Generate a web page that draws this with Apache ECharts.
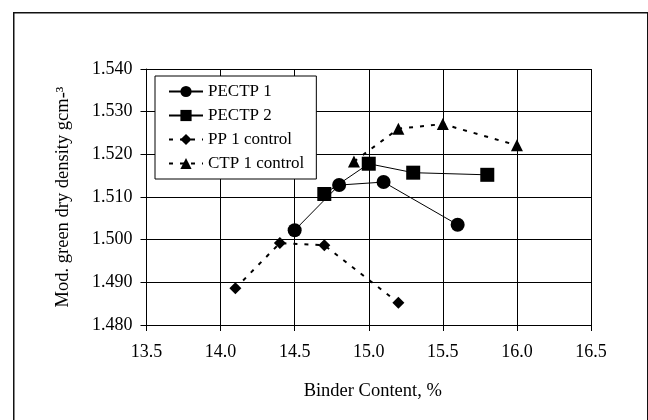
<!DOCTYPE html>
<html>
<head>
<meta charset="utf-8">
<style>html,body{margin:0;padding:0;background:#fff;}#c{width:648px;height:420px;}</style>
<script src="https://cdn.jsdelivr.net/npm/echarts@6/dist/echarts.min.js"></script>
</head>
<body>
<div id="c"></div>
<script>
const pectp1X = [14.5, 14.8, 15.1, 15.6];
const pectp1Y = [1.5022, 1.5128, 1.5135, 1.5035];
const pectp2X = [14.7, 15.0, 15.3, 15.8];
const pectp2Y = [1.5107, 1.5178, 1.5157, 1.5152];
const pp1X = [14.1, 14.4, 14.7, 15.2];
const pp1Y = [1.4886, 1.4992, 1.4987, 1.4852];
const ctp1X = [14.9, 15.2, 15.5, 16.0];
const ctp1Y = [1.5183, 1.5260, 1.5271, 1.5221];
const seriesNames = ['PECTP 1', 'PECTP 2', 'PP 1 control', 'CTP 1 control'];
const xTitle = 'Binder Content, %';
const yTitle = 'Mod. green dry density gcm-³';

const zip = (xs, ys) => xs.map((x, i) => [x, ys[i]]);
const FONT = '"Liberation Serif", "Times New Roman", serif';

const chart = echarts.init(document.getElementById('c'), null, {renderer: 'canvas'});
chart.setOption({
  animation: false,
  backgroundColor: '#fff',
  textStyle: {fontFamily: FONT, color: '#000'},
  graphic: [{
    type: 'rect', left: 13, top: 12, z: -10,
    shape: {x: 0, y: 0, width: 634, height: 430},
    style: {fill: '#fff', stroke: '#111', lineWidth: 1.5}
  }],
  grid: {left: 146.5, right: 57, top: 69, bottom: 95},
  legend: {
    orient: 'vertical', left: 155, top: 76,
    backgroundColor: '#fff', borderColor: '#000', borderWidth: 1,
    padding: [7, 12, 7, 13], itemGap: 7, itemWidth: 34, itemHeight: 14,
    textStyle: {fontFamily: FONT, fontSize: 17, color: '#000'},
    data: seriesNames
  },
  xAxis: {
    type: 'value', min: 13.5, max: 16.5, interval: 0.5,
    name: xTitle, nameLocation: 'middle', nameGap: 57,
    nameTextStyle: {fontFamily: FONT, fontSize: 18.5, color: '#000', padding: [0, 0, 0, 8]},
    axisLine: {lineStyle: {color: '#000', width: 1}},
    axisTick: {show: true, inside: false, length: 6, lineStyle: {color: '#000'}},
    axisLabel: {fontFamily: FONT, fontSize: 18, color: '#000', margin: 18,
      formatter: v => v.toFixed(1)},
    splitLine: {show: true, lineStyle: {color: '#000', width: 1}}
  },
  yAxis: {
    type: 'value', min: 1.48, max: 1.54, interval: 0.01,
    name: yTitle, nameLocation: 'middle', nameGap: 74, nameRotate: 90,
    nameTextStyle: {fontFamily: FONT, fontSize: 18.5, color: '#000'},
    axisLine: {show: true, lineStyle: {color: '#000', width: 1}},
    axisTick: {show: true, inside: false, length: 6, lineStyle: {color: '#000'}},
    axisLabel: {fontFamily: FONT, fontSize: 18, color: '#000', margin: 14,
      formatter: v => v.toFixed(3)},
    splitLine: {show: true, lineStyle: {color: '#000', width: 1}}
  },
  series: [
    {name: seriesNames[0], type: 'line', data: zip(pectp1X, pectp1Y),
     symbol: 'circle', symbolSize: 14, z: 5,
     itemStyle: {color: '#000'}, lineStyle: {color: '#000', width: 1}},
    {name: seriesNames[1], type: 'line', data: zip(pectp2X, pectp2Y),
     symbol: 'rect', symbolSize: 14, z: 5,
     itemStyle: {color: '#000'}, lineStyle: {color: '#000', width: 1}},
    {name: seriesNames[2], type: 'line', data: zip(pp1X, pp1Y),
     symbol: 'diamond', symbolSize: [12, 12], z: 5,
     itemStyle: {color: '#000'}, lineStyle: {color: '#000', width: 2, type: [4, 7]}},
    {name: seriesNames[3], type: 'line', data: zip(ctp1X, ctp1Y),
     symbol: 'triangle', symbolSize: [12, 12], z: 5,
     itemStyle: {color: '#000'}, lineStyle: {color: '#000', width: 2, type: [4, 7]}}
  ]
});
</script>
</body>
</html>
